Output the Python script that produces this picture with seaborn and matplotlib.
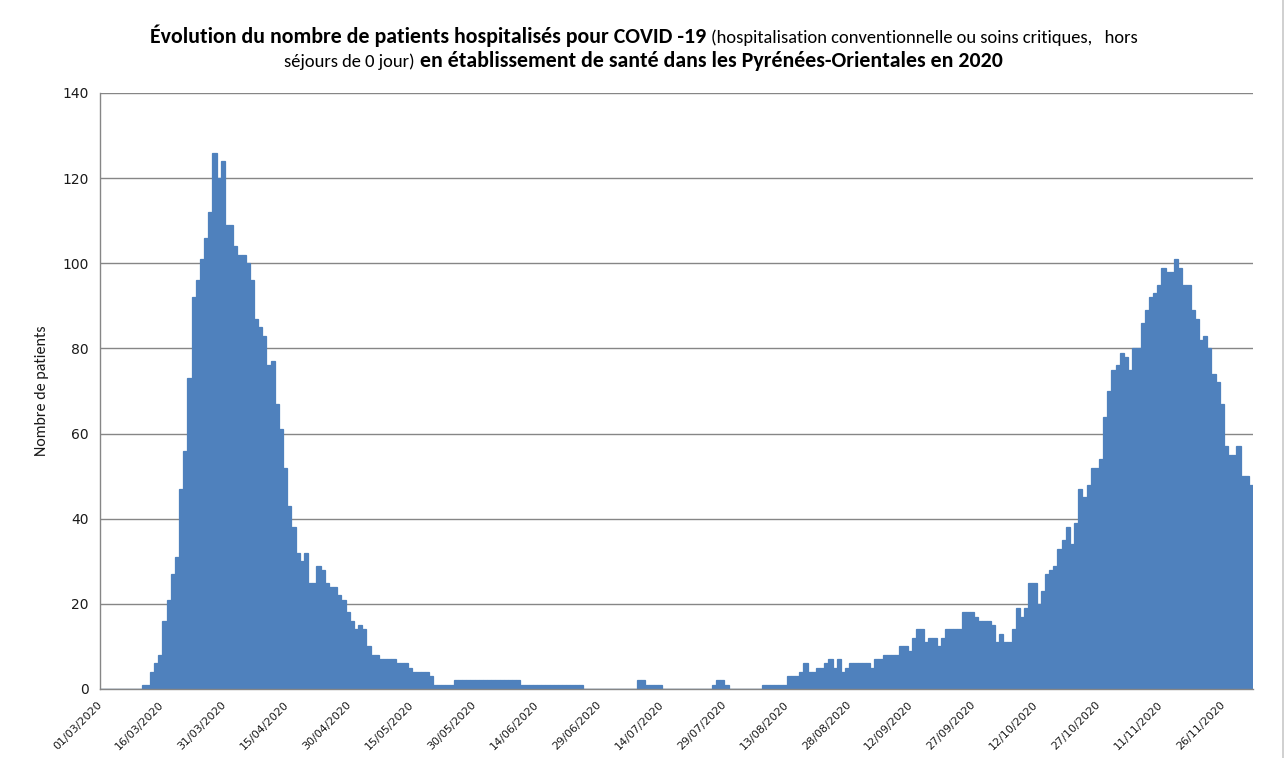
import numpy as np
import pandas as pd
import matplotlib
matplotlib.use("Agg")
import matplotlib.pyplot as plt
from matplotlib import font_manager
from matplotlib.lines import Line2D
import seaborn as sns

# Nombre de patients hospitalisés chaque jour, du 01/03/2020 au 02/12/2020
mars = [0, 0, 0, 0, 0, 0, 0, 0, 0, 0, 1, 1, 4, 6, 8, 16, 21, 27, 31, 47, 56,
        73, 92, 96, 101, 106, 112, 126, 120, 124, 109]
avril = [109, 104, 102, 102, 100, 96, 87, 85, 83, 76, 77, 67, 61, 52, 43, 38,
         32, 30, 32, 25, 25, 29, 28, 25, 24, 24, 22, 21, 18, 16]
mai = [14, 15, 14, 10, 8, 8, 7, 7, 7, 7, 6, 6, 6, 5, 4, 4, 4, 4, 3, 1, 1, 1,
       1, 1, 2, 2, 2, 2, 2, 2, 2]
juin = [2, 2, 2, 2, 2, 2, 2, 2, 2, 1, 1, 1, 1, 1, 1, 1, 1, 1, 1, 1, 1, 1, 1,
        1, 0, 0, 0, 0, 0, 0]
juillet = [0, 0, 0, 0, 0, 0, 0, 2, 2, 1, 1, 1, 1, 0, 0, 0, 0, 0, 0, 0, 0, 0,
           0, 0, 0, 1, 2, 2, 1, 0, 0]
aout = [0, 0, 0, 0, 0, 0, 1, 1, 1, 1, 1, 1, 3, 3, 3, 4, 6, 4, 4, 5, 5, 6, 7,
        5, 7, 4, 5, 6, 6, 6, 6]
septembre = [6, 5, 7, 7, 8, 8, 8, 8, 10, 10, 9, 12, 14, 14, 11, 12, 12, 10,
             12, 14, 14, 14, 14, 18, 18, 18, 17, 16, 16, 16]
octobre = [15, 11, 13, 11, 11, 14, 19, 17, 19, 25, 25, 20, 23, 27, 28, 29, 33,
           35, 38, 34, 39, 47, 45, 48, 52, 52, 54, 64, 70, 75, 76]
novembre = [79, 78, 75, 80, 80, 86, 89, 92, 93, 95, 99, 98, 98, 101, 99, 95,
            95, 89, 87, 82, 83, 80, 74, 72, 67, 57, 55, 55, 57, 50]
decembre = [50, 48]

etiquettes_dates = ["01/03/2020", "16/03/2020", "31/03/2020", "15/04/2020",
                    "30/04/2020", "15/05/2020", "30/05/2020", "14/06/2020",
                    "29/06/2020", "14/07/2020", "29/07/2020", "13/08/2020",
                    "28/08/2020", "12/09/2020", "27/09/2020", "12/10/2020",
                    "27/10/2020", "11/11/2020", "26/11/2020"]
pas_etiquettes = 15  # une étiquette tous les 15 jours
graduations_y = [0, 20, 40, 60, 80, 100, 120, 140]

patients = mars + avril + mai + juin + juillet + aout + septembre + octobre + novembre + decembre
df = pd.DataFrame({"jour": np.arange(len(patients)) + 0.5, "patients": patients})

BLEU = "#4F81BD"
GRIS = "#868686"

sns.set_style("white")
available = {f.name for f in font_manager.fontManager.ttflist}
title_font = next((f for f in ["Carlito", "Lato", "Liberation Sans Narrow", "Open Sans"]
                   if f in available), "DejaVu Sans")
plt.rcParams["font.family"] = ["DejaVu Sans"]

W, H = 1287, 758
fig = plt.figure(figsize=(W / 100, H / 100), dpi=100)
fig.patch.set_facecolor("white")
ax = fig.add_axes([100 / W, 1 - 689 / H, (1253 - 100) / W, (689 - 93) / H])

sns.barplot(data=df, x="jour", y="patients", native_scale=True, width=1,
            color=BLEU, saturation=1, errorbar=None, edgecolor=BLEU,
            linewidth=0.9, ax=ax, zorder=3)

ax.set_xlim(0, len(patients))
ax.set_ylim(graduations_y[0], graduations_y[-1])
ax.set_yticks(graduations_y)
ax.set_yticklabels([str(v) for v in graduations_y], fontsize=10, color="#1a1a1a")
ax.set_xticks([i * pas_etiquettes for i in range(len(etiquettes_dates))])
ax.set_xticklabels(etiquettes_dates, rotation=45, ha="right", va="center",
                   rotation_mode="anchor", fontsize=8, color="#1a1a1a")
ax.tick_params(axis="x", direction="out", length=4, width=0.9, color=GRIS, pad=6)
ax.tick_params(axis="y", direction="out", length=4, width=0.9, color=GRIS, pad=4)

ax.yaxis.grid(True, color=GRIS, linewidth=1.0, zorder=0)
ax.xaxis.grid(False)
ax.set_axisbelow(True)
for side in ["top", "right"]:
    ax.spines[side].set_visible(False)
for side in ["left", "bottom"]:
    ax.spines[side].set_color(GRIS)
    ax.spines[side].set_linewidth(1.0)
    ax.spines[side].set_zorder(4)

ax.set_xlabel("")
ax.set_ylabel("Nombre de patients", fontsize=11.5, family=[title_font, "DejaVu Sans"],
              color="#1a1a1a")
ax.yaxis.set_label_coords((49 - 100) / (1253 - 100), 0.5)

# Titre en deux lignes, parties grasses et normales
renderer = fig.canvas.get_renderer()


def fit_size(text, weight, target_px):
    t = fig.text(0, 0, text, fontsize=10, fontweight=weight,
                 family=[title_font, "DejaVu Sans"])
    w = t.get_window_extent(renderer).width
    t.remove()
    return 10 * target_px / w


gras2 = "en établissement de santé dans les Pyrénées-Orientales en 2020"
normal1 = "(hospitalisation conventionnelle ou soins critiques,   hors"
size_bold = fit_size(gras2, "bold", 582)
size_norm = fit_size(normal1, "normal", 428)

lignes = [
    ([("Évolution du nombre de patients hospitalisés pour COVID -19", "bold", size_bold),
      (normal1, "normal", size_norm)], 43),
    ([("séjours de 0 jour)", "normal", size_norm),
      (gras2, "bold", size_bold)], 67),
]
gap = 5
for parts, baseline in lignes:
    texts, widths = [], []
    for s, weight, size in parts:
        t = fig.text(0, 1 - baseline / H, s, fontsize=size, fontweight=weight,
                     family=[title_font, "DejaVu Sans"], va="baseline", ha="left",
                     color="black")
        texts.append(t)
        widths.append(t.get_window_extent(renderer).width)
    total = sum(widths) + gap * (len(parts) - 1)
    x = W / 2 - total / 2
    for t, w in zip(texts, widths):
        t.set_x(x / W)
        x += w + gap

# Cadre du graphique (bord droit)
fig.add_artist(Line2D([1283 / W, 1283 / W], [0, 1], color="#c8c8c8", linewidth=1.2,
                      transform=fig.transFigure))

fig.savefig("out.png", dpi=100)
